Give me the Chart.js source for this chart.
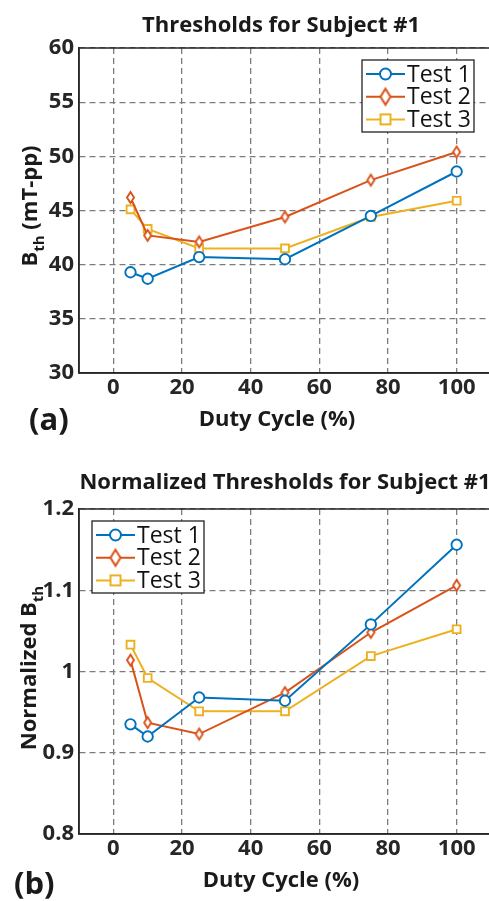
<!DOCTYPE html>
<html>
<head>
<meta charset="utf-8">
<script src="https://cdn.jsdelivr.net/npm/chart.js@4.4.1/dist/chart.umd.min.js"></script>
<style>
html, body { margin: 0; padding: 0; background: #fff; overflow: hidden; width: 489px; height: 901px; }
.panel { position: absolute; left: 0; width: 500px; }
</style>
</head>
<body>
<div class="panel" style="top:0;height:450px"><canvas id="chartA" width="500" height="450"></canvas></div>
<div class="panel" style="top:450px;height:451px"><canvas id="chartB" width="500" height="451"></canvas></div>
<script>
// duty cycle (%) for each measurement
const dutyCycle = [5, 10, 25, 50, 75, 100];

// (a) absolute thresholds, mT-pp
const test1Abs = [39.3, 38.7, 40.7, 40.5, 44.5, 48.6];
const test2Abs = [46.2, 42.7, 42.1, 44.4, 47.8, 50.4];
const test3Abs = [45.1, 43.3, 41.5, 41.5, 44.4, 45.9];

// (b) normalized thresholds
const test1Norm = [0.935, 0.920, 0.968, 0.964, 1.058, 1.156];
const test2Norm = [1.014, 0.937, 0.923, 0.974, 1.048, 1.106];
const test3Norm = [1.033, 0.992, 0.951, 0.951, 1.019, 1.052];

const seriesNames = ["Test 1", "Test 2", "Test 3"];
const xTicks = [0, 20, 40, 60, 80, 100];
const yTicksA = [30, 35, 40, 45, 50, 55, 60];
const yTicksB = [0.8, 0.9, 1, 1.1, 1.2];

const seriesColors = ["#0072BD", "#D95319", "#EDB120"];
const FONT = "'Open Sans', 'DejaVu Sans', sans-serif";
const INK = "#262626";

function diamondImage(color, w, h, lw){
    const c = document.createElement("canvas");
    c.width = Math.ceil(w + lw * 2 + 2);
    c.height = Math.ceil(h + lw * 2 + 2);
    const g = c.getContext("2d");
    const cx = c.width / 2, cy = c.height / 2;
    g.beginPath();
    g.moveTo(cx, cy - h / 2);
    g.lineTo(cx + w / 2, cy);
    g.lineTo(cx, cy + h / 2);
    g.lineTo(cx - w / 2, cy);
    g.closePath();
    g.fillStyle = "#fff";
    g.fill();
    g.strokeStyle = color;
    g.lineWidth = lw;
    g.stroke();
    return c;
}

const plotDiamond = diamondImage(seriesColors[1], 7, 11, 1.9);
const legendDiamond = diamondImage(seriesColors[1], 10, 16, 2);

function drawMarker(ctx, i, x, y){
    ctx.save();
    ctx.strokeStyle = seriesColors[i];
    ctx.fillStyle = "#fff";
    ctx.lineWidth = 2;
    if (i === 0){
        ctx.beginPath();
        ctx.arc(x, y, 5.5, 0, Math.PI * 2);
        ctx.fill();
        ctx.stroke();
    } else if (i === 1){
        ctx.drawImage(legendDiamond, x - legendDiamond.width / 2, y - legendDiamond.height / 2);
    } else {
        ctx.fillRect(x - 5, y - 5, 10, 10);
        ctx.strokeRect(x - 5, y - 5, 10, 10);
    }
    ctx.restore();
}

// titles, frame, panel label and the boxed legend
const panelDecor = {
    id: "panelDecor",
    beforeDatasetsDraw(chart, args, o){
        const a = chart.chartArea;
        const ctx = chart.ctx;
        ctx.save();
        ctx.strokeStyle = INK;
        ctx.lineWidth = 1.5;
        ctx.strokeRect(a.left, a.top, a.right - a.left, a.bottom - a.top);
        ctx.restore();
    },
    afterDatasetsDraw(chart, args, o){
        const ctx = chart.ctx;
        // legend
        const L = o.legend;
        ctx.save();
        ctx.fillStyle = "#fff";
        ctx.fillRect(L.x, L.y, L.w, L.h);
        ctx.strokeStyle = "#222";
        ctx.lineWidth = 1.3;
        ctx.strokeRect(L.x, L.y, L.w, L.h);
        chart.data.datasets.forEach((ds, i) => {
            const cy = L.y + L.rowTop + i * L.rowGap;
            ctx.strokeStyle = seriesColors[i];
            ctx.lineWidth = 2;
            ctx.beginPath();
            ctx.moveTo(L.x + 4, cy);
            ctx.lineTo(L.x + 43, cy);
            ctx.stroke();
            drawMarker(ctx, i, L.x + 23.5, cy);
            ctx.fillStyle = "#111";
            ctx.font = "400 23px " + FONT;
            ctx.textAlign = "left";
            ctx.textBaseline = "middle";
            ctx.fillText(ds.label, L.x + 45, cy + 1);
        });
        ctx.restore();
    },
    afterDraw(chart, args, o){
        const ctx = chart.ctx;
        ctx.save();
        ctx.fillStyle = "#1a1a1a";
        ctx.textBaseline = "alphabetic";
        // chart title
        ctx.font = "bold 22px " + FONT;
        ctx.textAlign = "center";
        ctx.fillText(o.title, o.titleX, o.titleY);
        // x axis title
        ctx.font = "bold 22px " + FONT;
        ctx.fillText("Duty Cycle (%)", o.xTitleX, o.xTitleY);
        // panel label
        ctx.font = "bold 31px " + FONT;
        ctx.textAlign = "left";
        ctx.fillText(o.panel, o.panelX, o.panelY);
        // y axis title with subscript
        ctx.translate(o.yTitleX, o.yTitleY);
        ctx.rotate(-Math.PI / 2);
        const main = "bold 22px " + FONT;
        const sub = "bold 15px " + FONT;
        ctx.font = main;
        const w1 = ctx.measureText(o.yPre).width;
        const w3 = ctx.measureText(o.yPost).width;
        ctx.font = sub;
        const w2 = ctx.measureText("th").width;
        let x = -(w1 + w2 + w3) / 2;
        ctx.font = main;
        ctx.fillText(o.yPre, x, 0);
        x += w1;
        ctx.font = sub;
        ctx.fillText("th", x, 7);
        x += w2;
        ctx.font = main;
        ctx.fillText(o.yPost, x, 0);
        ctx.restore();
    }
};

function makeDatasets(values){
    return values.map((vals, i) => ({
        label: seriesNames[i],
        data: dutyCycle.map((d, j) => ({x: d, y: vals[j]})),
        borderColor: seriesColors[i],
        backgroundColor: "#fff",
        borderWidth: 2,
        pointBorderWidth: 1.9,
        pointStyle: i === 0 ? "circle" : (i === 1 ? plotDiamond : "rect"),
        pointRadius: i === 0 ? 5.2 : 5.5,
        pointBackgroundColor: "#fff",
        pointBorderColor: seriesColors[i],
        tension: 0
    }));
}

function gridOpts(){
    return {
        color: "#7c7c7c",
        lineWidth: 1.3,
        drawTicks: false
    };
}

function makeChart(id, values, yMin, yMax, yTicks, top, xAxisHeight, decor){
    const ctx = document.getElementById(id).getContext("2d");
    return new Chart(ctx, {
        type: "line",
        data: { datasets: makeDatasets(values) },
        options: {
            responsive: false,
            animation: false,
            events: [],
            layout: { padding: { top: top, right: 9, left: 0, bottom: 0 } },
            plugins: {
                legend: { display: false },
                tooltip: { enabled: false },
                panelDecor: decor
            },
            scales: {
                x: {
                    type: "linear",
                    min: -10,
                    max: 110,
                    afterBuildTicks: s => { s.ticks = xTicks.map(v => ({value: v})); },
                    afterFit: s => { s.height = xAxisHeight; },
                    grid: gridOpts(),
                    border: { color: INK, width: 1.5, dash: [6, 4] },
                    ticks: {
                        padding: 2,
                        color: INK,
                        font: { family: FONT, size: 22, weight: "bold" },
                        maxRotation: 0
                    }
                },
                y: {
                    min: yMin,
                    max: yMax,
                    afterBuildTicks: s => { s.ticks = yTicks.map(v => ({value: v})); },
                    afterFit: s => { s.width = 79; },
                    grid: gridOpts(),
                    border: { color: INK, width: 1.5, dash: [6, 4] },
                    ticks: {
                        padding: 5,
                        color: INK,
                        font: { family: FONT, size: 22, weight: "bold" },
                        callback: v => `${v}`
                    }
                }
            }
        },
        plugins: [panelDecor]
    });
}

makeChart("chartA", [test1Abs, test2Abs, test3Abs], 30, 60, yTicksA, 48, 77, {
    title: "Thresholds for Subject #1", titleX: 281, titleY: 32,
    xTitleX: 277, xTitleY: 426,
    panel: "(a)", panelX: 29, panelY: 430,
    yPre: "B", yPost: " (mT-pp)", yTitleX: 37, yTitleY: 206,
    legend: { x: 362, y: 60, w: 112, h: 72, rowTop: 14, rowGap: 22.7 }
});

makeChart("chartB", [test1Norm, test2Norm, test3Norm], 0.8, 1.2, yTicksB, 59, 67, {
    title: "Normalized Thresholds for Subject #1", titleX: 285, titleY: 39,
    xTitleX: 281, xTitleY: 437,
    panel: "(b)", panelX: 14, panelY: 444,
    yPre: "Normalized B", yPost: "", yTitleX: 36, yTitleY: 218,
    legend: { x: 92, y: 71, w: 112, h: 72, rowTop: 14, rowGap: 22.7 }
});
</script>
</body>
</html>
